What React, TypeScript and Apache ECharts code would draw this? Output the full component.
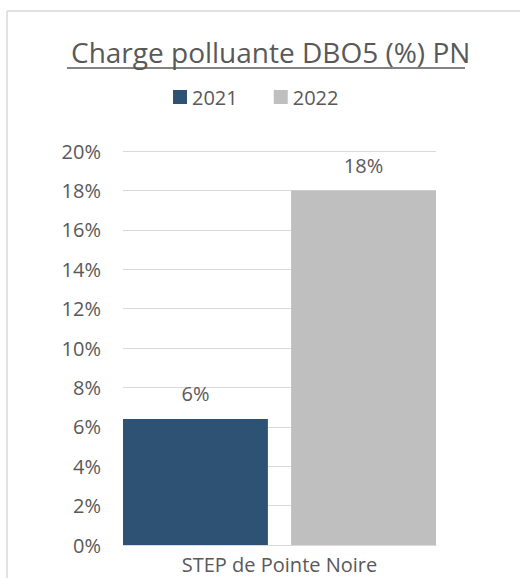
import React, { useEffect, useRef } from "react";
import * as echarts from "echarts";

const categories = ["STEP de Pointe Noire"];
const seriesNames = ["2021", "2022"];
const values2021 = [6.4];
const values2022 = [18];
const labels2021 = ["6%"];
const labels2022 = ["18%"];
const colors = ["#2E5273", "#BFBFBF"];

const FONT = "'Open Sans', sans-serif";
const TEXT = "#595959";

export default function App() {
  const ref = useRef<HTMLDivElement>(null);
  useEffect(() => {
    document.body.style.margin = "0";
    const chart = echarts.init(ref.current!, null, { renderer: "svg" });
    const mk = (name: string, data: number[], labels: string[], color: string) => ({
      name,
      type: "bar",
      data,
      barWidth: 145,
      barGap: "16%",
      itemStyle: { color },
      label: {
        show: true,
        position: "top",
        distance: 15,
        color: TEXT,
        fontFamily: FONT,
        fontSize: 20,
        formatter: (p: any) => labels[p.dataIndex],
      },
    });
    chart.setOption({
      animation: false,
      backgroundColor: "#fff",
      textStyle: { fontFamily: FONT },
      title: {
        text: "Charge polluante DBO5 (%) PN",
        left: 66,
        top: 33,
        textStyle: { color: TEXT, fontFamily: FONT, fontSize: 28, fontWeight: "normal" },
      },
      legend: {
        data: seriesNames,
        top: 82,
        left: 168,
        itemWidth: 14,
        itemHeight: 14,
        itemGap: 36,
        icon: "rect",
        textStyle: { color: TEXT, fontFamily: FONT, fontSize: 20 },
      },
      grid: { left: 123, right: 84, top: 151, bottom: 33, containLabel: false },
      xAxis: {
        type: "category",
        data: categories,
        axisLine: { lineStyle: { color: "#D9D9D9" } },
        axisTick: { show: false },
        axisLabel: { color: TEXT, fontFamily: FONT, fontSize: 20, margin: 9 },
      },
      yAxis: {
        type: "value",
        min: 0,
        max: 20,
        interval: 2,
        axisLine: { show: false },
        axisTick: { show: false },
        splitLine: { lineStyle: { color: "#D9D9D9", width: 1 } },
        axisLabel: {
          color: TEXT,
          fontFamily: FONT,
          fontSize: 20,
          margin: 22,
          formatter: (v: number) => v + "%",
        },
      },
      graphic: [
        { type: "line", shape: { x1: 7, y1: 11, x2: 520, y2: 11 }, style: { stroke: "#D9D9D9", lineWidth: 1.5 } },
        { type: "line", shape: { x1: 7, y1: 11, x2: 7, y2: 578 }, style: { stroke: "#D9D9D9", lineWidth: 1.5 } },
        { type: "line", shape: { x1: 67, y1: 68, x2: 465, y2: 68 }, style: { stroke: TEXT, lineWidth: 1.5 } },
      ],
      series: [
        mk(seriesNames[0], values2021, labels2021, colors[0]),
        mk(seriesNames[1], values2022, labels2022, colors[1]),
      ],
    });
    return () => chart.dispose();
  }, []);
  return <div ref={ref} style={{ width: 520, height: 578 }} />;
}
